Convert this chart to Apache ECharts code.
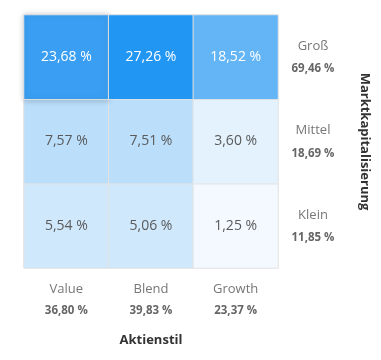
<!DOCTYPE html>
<html><head><meta charset="utf-8">
<script src="https://cdn.jsdelivr.net/npm/echarts@6/dist/echarts.min.js"></script>
<style>html,body{margin:0;padding:0;background:#fff}#c{width:381px;height:360px}</style>
</head><body><div id="c"></div>
<script>
var styles = ['Value', 'Blend', 'Growth'];
var styleTotals = ['36,80 %', '39,83 %', '23,37 %'];
var sizes = ['Klein', 'Mittel', 'Groß'];
var sizeTotals = ['11,85 %', '18,69 %', '69,46 %'];
var rowGross = [23.68, 27.26, 18.52];
var rowMittel = [7.57, 7.51, 3.60];
var rowKlein = [5.54, 5.06, 1.25];

var rows = [rowKlein, rowMittel, rowGross];
var data = [];
rows.forEach(function (row, yi) {
  row.forEach(function (v, xi) {
    var item = { value: [xi, yi, v] };
    if (yi === 2 && xi === 0) {
      item.itemStyle = { shadowBlur: 6, shadowColor: 'rgba(0,0,0,0.22)' };
    }
    data.push(item);
  });
});
function fmt(v) { return v.toFixed(2).replace('.', ',') + ' %'; }

var font = '"Open Sans", sans-serif';
var chart = echarts.init(document.getElementById('c'));
chart.setOption({
  animation: false,
  textStyle: { fontFamily: font },
  grid: { left: 24, right: 103, top: 15, bottom: 92 },
  xAxis: {
    type: 'category', data: styles, position: 'bottom',
    axisLine: { show: false }, axisTick: { show: false }, splitLine: { show: false },
    axisLabel: {
      margin: 10, interval: 0,
      formatter: function (v, i) { return '{a|' + v + '}\n{b|' + styleTotals[i] + '}'; },
      rich: {
        a: { fontSize: 13, color: '#777', lineHeight: 22, fontFamily: font },
        b: { fontSize: 11.5, color: '#666', fontWeight: 'bold', lineHeight: 22, fontFamily: font }
      }
    },
    name: 'Aktienstil', nameLocation: 'middle', nameGap: 66,
    nameTextStyle: { fontSize: 13, fontWeight: 'bold', color: '#333', fontFamily: font }
  },
  yAxis: {
    type: 'category', data: sizes, position: 'right',
    axisLine: { show: false }, axisTick: { show: false }, splitLine: { show: false },
    axisLabel: {
      margin: 35, align: 'center', interval: 0,
      formatter: function (v, i) { return '{a|' + v + '}\n{b|' + sizeTotals[i] + '}'; },
      rich: {
        a: { fontSize: 13, color: '#777', lineHeight: 24, align: 'center', fontFamily: font },
        b: { fontSize: 11.5, color: '#666', fontWeight: 'bold', lineHeight: 22, align: 'center', fontFamily: font }
      }
    },
    name: 'Marktkapitalisierung', nameLocation: 'middle', nameGap: 80, nameRotate: -90,
    nameTextStyle: { fontSize: 13, fontWeight: 'bold', color: '#333', fontFamily: font }
  },
  visualMap: {
    show: false, type: 'piecewise', dimension: 2,
    pieces: [
      { lt: 2, color: '#F3F9FE' },
      { gte: 2, lt: 5, color: '#E3F2FD' },
      { gte: 5, lt: 6, color: '#D0E8FC' },
      { gte: 6, lt: 10, color: '#BBDEFB' },
      { gte: 10, lt: 20, color: '#64B5F6' },
      { gte: 20, lt: 25, color: '#3A9FF2' },
      { gte: 25, color: '#2196F3' }
    ]
  },
  series: [{
    type: 'heatmap', data: data,
    itemStyle: { borderColor: '#e2e2e2', borderWidth: 1 },
    label: {
      show: true,
      formatter: function (p) {
        var v = p.value[2];
        return (v > 15 ? '{w|' : '{g|') + fmt(v) + '}';
      },
      rich: {
        w: { color: '#fff', fontSize: 14, fontFamily: font },
        g: { color: '#5a5a5a', fontSize: 14, fontFamily: font }
      }
    }
  }]
});
</script></body></html>
